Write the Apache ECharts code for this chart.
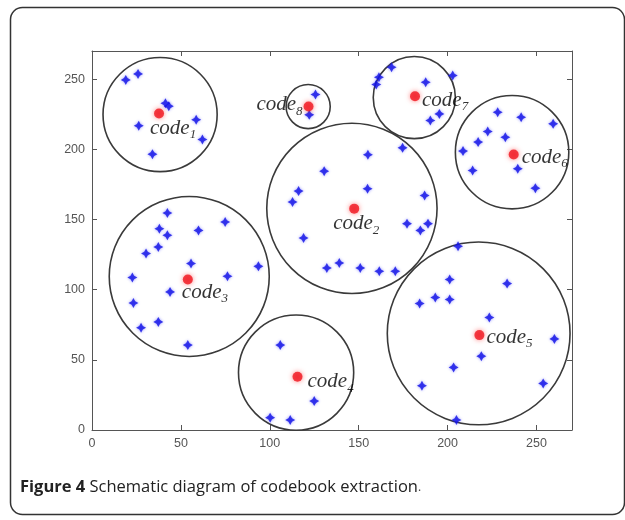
<!DOCTYPE html>
<html>
<head>
<meta charset="utf-8">
<script src="https://cdn.jsdelivr.net/npm/echarts@6/dist/echarts.min.js"></script>
<style>html,body{margin:0;padding:0;background:#fff;}#c{width:625px;height:520px;}</style>
</head>
<body>
<div id="c"></div>
<script>
// Sample points (blue stars)
const pointX = [19,25.9,41.3,43.2,26.3,58.6,62.1,34,
  125.7,122.2,
  168.5,161.4,159.9,187.7,190.3,195.4,202.9,
  228.2,241.4,259.4,222.6,232.5,217.2,208.7,214.1,239.5,249.4,
  174.7,155.2,130.6,155,116.2,112.8,187.1,177.2,189,184.7,119,132.1,139.1,150.9,161.6,170.6,
  42.4,37.9,42.4,74.9,59.9,37.3,30.4,55.7,93.6,22.7,76.2,43.9,23.3,37.3,27.6,53.9,
  105.9,125,100.2,111.5,
  205.9,201.2,233.5,193.1,201.2,184.3,223.5,260.1,219,203.4,185.6,253.8,205];
const pointY = [249.4,253.7,232.8,230.7,216.7,221,207,196.5,
  239,224.5,
  258.4,251.3,246.1,247.7,220.5,225.2,252.5,
  226.4,222.8,218.1,212.7,208.6,205.1,198.7,184.9,186.1,172.3,
  201,196.1,184.4,171.9,170.2,162.4,167.1,147,147,142.2,136.8,115.4,119,115.4,113.1,113.1,
  154.6,143.4,138.7,148.2,142.2,130.4,125.7,118.6,116.6,108.6,109.5,98.4,90.5,77,72.8,60.5,
  60.5,20.6,8.8,7.1,
  130.9,107.2,104.3,94.4,93,90.1,80.1,64.9,52.6,44.6,31.5,33.2,7.1];

// Codewords (red dots)
const codeNames = ['1','2','3','4','5','6','7','8'];
const codeX = [37.7,147.5,53.9,115.6,217.9,237.2,181.7,121.8];
const codeY = [225.5,157.7,107.2,37.9,67.6,196.3,237.8,230.4];

// Cluster circles (centre and radius in x-axis units)
const circleX = [38.3,146.2,54.7,114.8,217.5,236.3,181.3,121.6];
const circleY = [224.7,157.9,109.4,40.9,68.8,197.9,236.8,230.4];
const circleR = [32.1,47.9,45,32.4,51.4,31.9,23.1,12.4];

// Axis ticks
const axisMin = 0, axisMax = 270, tickStep = 50;

// label placement (style only)
const labelOffsets = [[-9,15],[-21,15],[-6,13],[10,5],[7,2],[8,3],[7,4],[-6,-2]];
const labelAlign = ['left','left','left','left','left','left','left','right'];

const chart = echarts.init(document.getElementById('c'), null, {renderer:'canvas'});

const starPath = 'path://M0,-10 L3.6,-3.6 L10,0 L3.6,3.6 L0,10 L-3.6,3.6 L-10,0 L-3.6,-3.6 Z';

function axis(pos, showLabel){
  return {
    type:'value', min:axisMin, max:axisMax, interval:tickStep, position:pos,
    axisLine:{show:true, onZero:false, lineStyle:{color:'#555', width:1}},
    axisTick:{show:true, inside:true, length:5, lineStyle:{color:'#555'}},
    splitLine:{show:false},
    axisLabel:showLabel ? {color:'#555', fontSize:12.5, fontFamily:'Liberation Sans', margin:7, showMaxLabel:false} : {show:false}
  };
}

const option = {
  backgroundColor:'#fff',
  animation:false,
  grid:{left:92, right:53, top:51, bottom:90, containLabel:false},
  xAxis:[axis('bottom', true), axis('top', false)],
  yAxis:[axis('left', true), axis('right', false)],
  graphic:[
    {type:'rect', left:8, top:5, shape:{width:614, height:507, r:12},
     style:{fill:'none', stroke:'#333', lineWidth:1.5}, z:-1},
    {type:'text', left:20, top:479,
     style:{text:'{b|Figure 4} Schematic diagram of codebook extraction{s|.}',
       rich:{b:{fontWeight:'bold', fontSize:16.5, fontFamily:'Open Sans', fill:'#222'},
             s:{fontSize:12, fontFamily:'Open Sans', fill:'#444'}},
       fontSize:16.5, fontFamily:'Open Sans', fill:'#222'}}
  ],
  series:[
    {
      type:'custom', name:'circles', xAxisIndex:0, yAxisIndex:0,
      clip:false,
      data: circleX.map((x,i)=>[x, circleY[i], circleR[i]]),
      renderItem:function(params, api){
        const c = api.coord([api.value(0), api.value(1)]);
        const r = api.size([api.value(2), 0])[0];
        return {type:'circle', shape:{cx:c[0], cy:c[1], r:r},
          style:{fill:'none', stroke:'#3a3a3a', lineWidth:1.6}};
      },
      z:2
    },
    {
      type:'scatter', name:'points', symbol:starPath, symbolSize:10,
      itemStyle:{color:'#1010e6', shadowBlur:3, shadowColor:'rgba(40,40,255,0.6)'},
      data: pointX.map((x,i)=>[x, pointY[i]]), z:3
    },
    {
      type:'scatter', name:'codes', symbol:'circle', symbolSize:10,
      itemStyle:{color:'#f0141e', shadowBlur:5, shadowColor:'rgba(255,40,40,0.7)'},
      data: codeX.map((x,i)=>({
        value:[x, codeY[i]],
        label:{show:true, position:'inside', offset:labelOffsets[i], align:labelAlign[i], verticalAlign:'middle',
          formatter:'{a|code}{n|'+codeNames[i]+'}',
          rich:{a:{fontFamily:'Liberation Serif', fontStyle:'italic', fontSize:21, color:'#000'},
                n:{fontFamily:'Liberation Serif', fontStyle:'italic', fontSize:13, color:'#000', padding:[13,0,0,0]}}}
      })),
      z:4
    }
  ]
};
chart.setOption(option);
</script>
</body>
</html>
